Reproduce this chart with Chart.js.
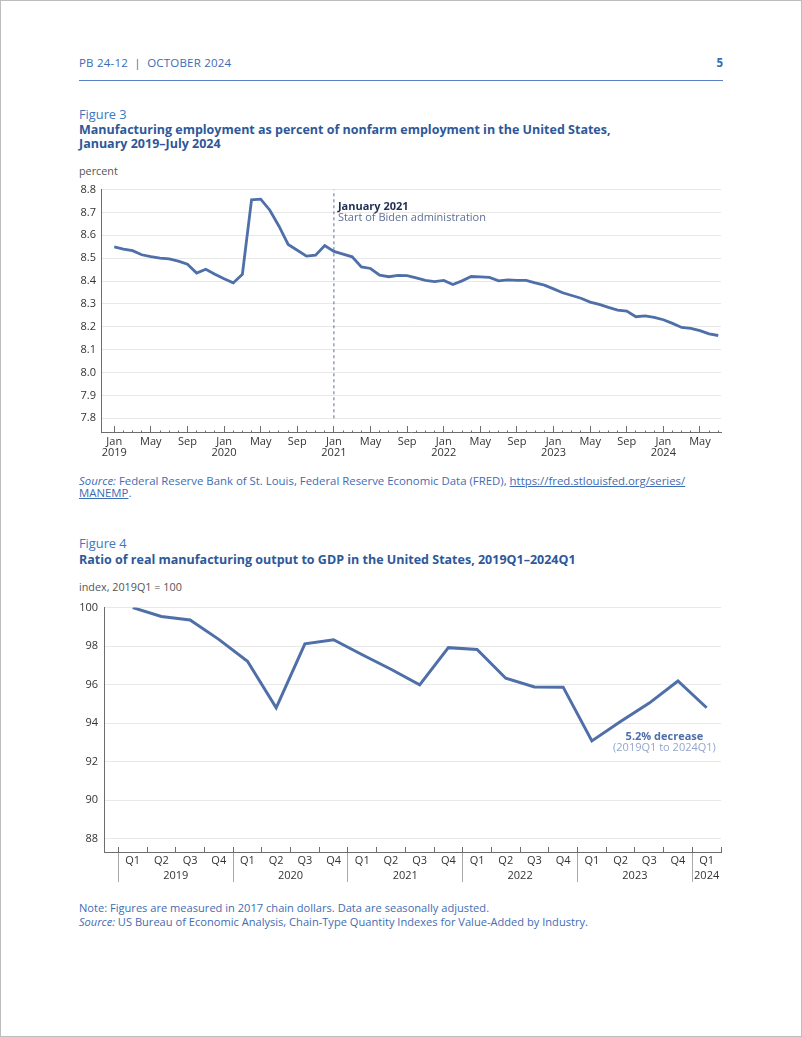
<!DOCTYPE html>
<html>
<head>
<meta charset="utf-8">
<script src="https://cdn.jsdelivr.net/npm/chart.js@4.4.1/dist/chart.umd.min.js"></script>
<style>
  html, body { margin: 0; padding: 0; background: #fff; }
  body { width: 802px; height: 1037px; position: relative; overflow: hidden; font-family: "Open Sans", sans-serif; }
  .page { position: absolute; left: 0; top: 0; width: 800px; height: 1035px; border: 1px solid #bdbdbd; }
  .txt { position: absolute; left: 79px; white-space: nowrap; }
  .head { top: 56px; font-size: 11.5px; line-height: 14px; color: #3d6bb3; letter-spacing: 0.2px; }
  .pageno { position: absolute; right: 79px; top: 56px; font-size: 11.5px; line-height: 14px; color: #3d6bb3; font-weight: 700; }
  .rule { position: absolute; left: 79px; top: 80px; width: 644px; height: 1px; background: #5b7fbf; }
  .fig { font-size: 12.8px; line-height: 16px; color: #3c78c2; }
  .title { font-size: 12.5px; line-height: 14px; color: #2d5899; font-weight: 700; }
  .unit { font-size: 10.8px; line-height: 14px; color: #555; }
  .src { font-size: 11.4px; line-height: 12px; color: #3f6cb3; }
  .src a { color: #3f6cb3; text-decoration: underline; }
  .note { font-size: 11.1px; line-height: 14px; color: #3f6cb3; }
  canvas { position: absolute; left: 0; }
</style>
</head>
<body>
<div class="page"></div>
<div class="txt head">PB 24-12 &nbsp;|&nbsp; OCTOBER 2024</div>
<div class="pageno">5</div>
<div class="rule"></div>

<div class="txt fig" style="top:106px">Figure 3</div>
<div class="txt title" style="top:123px">Manufacturing employment as percent of nonfarm employment in the United States,<br>January 2019–July 2024</div>
<div class="txt unit" style="top:164px">percent</div>
<canvas id="empChart" width="802" height="290" style="top:178px"></canvas>
<div class="txt src" style="top:475px"><i>Source:</i> Federal Reserve Bank of St. Louis, Federal Reserve Economic Data (FRED), <a>https://fred.stlouisfed.org/series/<br>MANEMP</a>.</div>

<div class="txt fig" style="top:535px">Figure 4</div>
<div class="txt title" style="top:553px">Ratio of real manufacturing output to GDP in the United States, 2019Q1–2024Q1</div>
<div class="txt unit" style="top:580px">index, 2019Q1 = 100</div>
<canvas id="outChart" width="802" height="300" style="top:595px"></canvas>
<div class="txt note" style="top:901px">Note: Figures are measured in 2017 chain dollars. Data are seasonally adjusted.<br><i>Source:</i> US Bureau of Economic Analysis, Chain-Type Quantity Indexes for Value-Added by Industry.</div>

<script>
// Figure 3 data: monthly, Jan 2019 - Jul 2024
const monthNames = ['Jan', 'Feb', 'Mar', 'Apr', 'May', 'Jun', 'Jul', 'Aug', 'Sep', 'Oct', 'Nov', 'Dec'];
const empYears = [2019, 2020, 2021, 2022, 2023, 2024];
const markedMonths = ['Jan', 'May', 'Sep'];
const employmentShare = [
  8.55, 8.54, 8.533, 8.515, 8.507, 8.50, 8.497, 8.487, 8.474, 8.435, 8.452, 8.43,
  8.41, 8.392, 8.43, 8.755, 8.758, 8.71, 8.64, 8.56, 8.535, 8.509, 8.513, 8.555,
  8.53, 8.518, 8.506, 8.462, 8.455, 8.426, 8.419, 8.425, 8.424, 8.414, 8.403, 8.398,
  8.403, 8.385, 8.401, 8.42, 8.418, 8.416, 8.401, 8.405, 8.403, 8.403, 8.392, 8.382,
  8.366, 8.349, 8.337, 8.325, 8.308, 8.298, 8.285, 8.273, 8.269, 8.244, 8.248, 8.241,
  8.231, 8.215, 8.197, 8.193, 8.183, 8.169, 8.162
];
const empTicks = [7.8, 7.9, 8.0, 8.1, 8.2, 8.3, 8.4, 8.5, 8.6, 8.7, 8.8];
const bidenMonth = 'Jan 2021';
const bidenNote = ['January 2021', 'Start of Biden administration'];

// Figure 4 data: quarterly, 2019Q1 - 2024Q1
const quarterNames = ['Q1', 'Q2', 'Q3', 'Q4'];
const outYears = ['2019', '2020', '2021', '2022', '2023', '2024'];
const outputRatio = [
  100.0, 99.54, 99.36, 98.35,
  97.21, 94.80, 98.12, 98.33,
  97.55, 96.80, 95.99, 97.92,
  97.83, 96.33, 95.88, 95.87,
  93.08, 94.08, 95.04, 96.19,
  94.80
];
const outTicks = [88, 90, 92, 94, 96, 98, 100];
const outNote = ['5.2% decrease', '(2019Q1 to 2024Q1)'];

const lineColor = '#4f6fa9';
const axisColor = '#6d6d6d';
const gridColor = '#e8e8e8';
const labelColor = '#333333';
const fam = '"Open Sans", sans-serif';

Chart.defaults.font.family = fam;
Chart.defaults.color = labelColor;

// month categories
const months = [];
empYears.forEach(y => monthNames.forEach(m => months.push(m + ' ' + y)));
months.length = employmentShare.length;
const isMarked = i => markedMonths.includes(months[i].split(' ')[0]);

const bidenIdx = months.indexOf(bidenMonth);

const bidenPlugin = {
  id: 'bidenNote',
  afterDatasetsDraw(chart) {
    const ctx = chart.ctx;
    const x = chart.scales.x, y = chart.scales.y;
    const px = x.getPixelForValue(bidenIdx) + 4;
    ctx.save();
    ctx.textBaseline = 'middle';
    ctx.font = 'bold 11px ' + fam;
    ctx.fillStyle = '#1f2e52';
    ctx.fillText(bidenNote[0], px, y.getPixelForValue(8.726));
    ctx.font = '11px ' + fam;
    ctx.fillStyle = '#5d6f95';
    ctx.fillText(bidenNote[1], px, y.getPixelForValue(8.675));
    ctx.restore();
  }
};

new Chart(document.getElementById('empChart'), {
  type: 'line',
  data: {
    datasets: [{
      data: employmentShare.map((v, i) => ({ x: i, y: v })),
      borderColor: lineColor,
      borderWidth: 2.8,
      pointRadius: 0,
      tension: 0
    }, {
      data: [{ x: bidenIdx, y: empTicks[0] }, { x: bidenIdx, y: empTicks[empTicks.length - 1] }],
      borderColor: '#5d6f94',
      borderWidth: 1,
      borderDash: [3, 3],
      pointRadius: 0
    }]
  },
  options: {
    responsive: false,
    animation: false,
    devicePixelRatio: 1,
    layout: { padding: { left: 0, right: 81, top: 11, bottom: 0 } },
    plugins: { legend: { display: false }, tooltip: { enabled: false } },
    scales: {
      x: {
        type: 'linear',
        min: -1.45,
        max: 66.3,
        afterBuildTicks: s => { s.ticks = months.map((m, i) => ({ value: i })); },
        afterFit: s => { s.height = 36; },
        border: { color: axisColor, width: 1 },
        grid: {
          drawOnChartArea: false,
          tickLength: -6,
          tickColor: axisColor,
          tickBorderDash: c => (c.index !== undefined && isMarked(c.index)) ? [] : [2.5, 30]
        },
        ticks: {
          autoSkip: false,
          maxRotation: 0,
          padding: 10,
          font: { size: 11, lineHeight: 1.05 },
          callback: (v, i) => {
            const [m, y] = months[i].split(' ');
            if (!markedMonths.includes(m)) return '';
            return m === 'Jan' ? [m, y] : m;
          }
        }
      },
      y: {
        min: 7.74,
        max: 8.8,
        afterBuildTicks: s => { s.ticks = empTicks.map(v => ({ value: v })); },
        afterFit: s => { s.width = 101; },
        border: { color: axisColor, width: 1 },
        grid: { color: gridColor, drawTicks: false },
        ticks: { padding: 5, font: { size: 11 }, callback: v => v.toFixed(1) }
      }
    }
  },
  plugins: [bidenPlugin]
});

// quarter categories
const quarters = [];
outYears.forEach(y => quarterNames.forEach(q => quarters.push({ q: q, y: y })));
quarters.length = outputRatio.length;

// year groups: first index and centre of each year
const yearStarts = new Set();
const yearCentres = new Map();
outYears.forEach(y => {
  const idx = quarters.map((c, i) => c.y === y ? i : -1).filter(i => i >= 0);
  yearStarts.add(idx[0] - 0.5);
  yearCentres.set((idx[0] + idx[idx.length - 1]) / 2, y);
});

// label row ticks: every quarter centre plus every quarter boundary
const qTicks = [];
for (let i = 0; i < quarters.length; i++) {
  qTicks.push({ value: i - 0.5, edge: true });
  qTicks.push({ value: i, edge: false });
}
qTicks.push({ value: quarters.length - 0.5, edge: true });
qTicks.forEach(t => {
  const yr = yearCentres.get(t.value);
  const q = t.edge ? '' : quarters[t.value].q;
  t.label = yr ? [q, yr] : q;
});

const outPlugin = {
  id: 'outNote',
  afterDatasetsDraw(chart) {
    const ctx = chart.ctx;
    const x = chart.scales.x, y = chart.scales.y;
    const px = x.getPixelForValue(18.53);
    ctx.save();
    ctx.textAlign = 'center';
    ctx.textBaseline = 'middle';
    ctx.font = 'bold 11px ' + fam;
    ctx.fillStyle = lineColor;
    ctx.fillText(outNote[0], px, y.getPixelForValue(93.29));
    ctx.font = '11px ' + fam;
    ctx.fillStyle = '#93a6cc';
    ctx.fillText(outNote[1], px, y.getPixelForValue(92.70));
    ctx.restore();
  }
};

new Chart(document.getElementById('outChart'), {
  type: 'line',
  data: {
    datasets: [{
      data: outputRatio.map((v, i) => ({ x: i, y: v })),
      borderColor: lineColor,
      borderWidth: 3,
      pointRadius: 0,
      tension: 0
    }]
  },
  options: {
    responsive: false,
    animation: false,
    devicePixelRatio: 1,
    layout: { padding: { left: 0, right: 81, top: 11, bottom: 0 } },
    plugins: { legend: { display: false }, tooltip: { enabled: false } },
    scales: {
      // year separators, hanging down from the axis line
      sep: {
        type: 'linear',
        axis: 'x',
        position: 'bottom',
        weight: 0,
        min: -1,
        max: 20.5,
        afterBuildTicks: s => { s.ticks = [...yearStarts].map(v => ({ value: v })); },
        afterFit: s => { s.height = 1; },
        border: { color: axisColor, width: 1 },
        grid: { drawOnChartArea: false, tickLength: 30, tickColor: '#a8a8a8' },
        ticks: { display: false }
      },
      x: {
        type: 'linear',
        position: 'bottom',
        weight: 1,
        min: -1,
        max: 20.5,
        afterBuildTicks: s => { s.ticks = qTicks.map(t => ({ value: t.value })); },
        afterFit: s => { s.height = 42; },
        border: { display: false },
        grid: {
          drawOnChartArea: false,
          tickLength: -6,
          tickColor: c => (c.index !== undefined && qTicks[c.index] && qTicks[c.index].edge) ? axisColor : 'rgba(0,0,0,0)'
        },
        ticks: {
          autoSkip: false,
          maxRotation: 0,
          padding: 6.5,
          font: { size: 11, lineHeight: '15px' },
          callback: (v, i) => qTicks[i].label
        }
      },
      y: {
        min: 87.31,
        max: 100,
        afterBuildTicks: s => { s.ticks = outTicks.map(v => ({ value: v })); },
        afterFit: s => { s.width = 104; },
        border: { color: axisColor, width: 1 },
        grid: { color: gridColor, drawTicks: false },
        ticks: { padding: 6, font: { size: 11 } }
      }
    }
  },
  plugins: [outPlugin]
});
</script>
</body>
</html>
